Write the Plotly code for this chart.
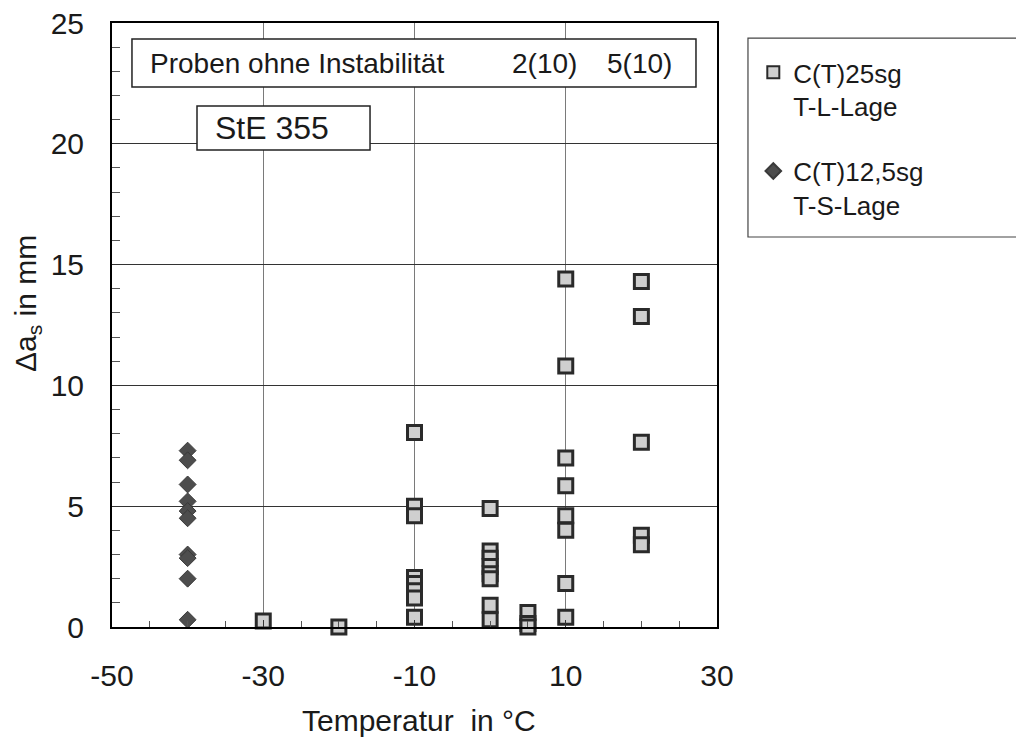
import plotly.graph_objects as go

# --- data ---
sq_temp = [-30, -20,
           -10, -10, -10, -10, -10, -10, -10, -10,
           0, 0, 0, 0, 0, 0, 0, 0,
           5, 5, 5,
           10, 10, 10, 10, 10, 10, 10, 10,
           20, 20, 20, 20, 20]
sq_da = [0.25, 0.0,
         8.05, 5.0, 4.6, 2.05, 1.8, 1.5, 1.2, 0.4,
         4.9, 3.15, 2.85, 2.5, 2.2, 2.0, 0.9, 0.3,
         0.6, 0.15, 0.0,
         14.4, 10.8, 7.0, 5.85, 4.6, 4.0, 1.8, 0.4,
         14.3, 12.85, 7.65, 3.8, 3.4]

dia_temp = [-40, -40, -40, -40, -40, -40, -40, -40, -40, -40]
dia_da = [7.3, 6.9, 5.9, 5.2, 4.8, 4.5, 3.0, 2.85, 2.0, 0.3]

x_ticks = [-50, -30, -10, 10, 30]
y_ticks = [0, 5, 10, 15, 20, 25]

FONT = "Liberation Sans, Arial, Helvetica, sans-serif"

fig = go.Figure()
fig.add_trace(go.Scatter(
    x=sq_temp, y=sq_da, mode="markers", name="C(T)25sg<br>T-L-Lage",
    legendgroup="a", cliponaxis=False,
    marker=dict(symbol="square", size=14, color="#cfcfcf",
                line=dict(color="#2a2a2a", width=3))))
fig.add_trace(go.Scatter(
    x=dia_temp, y=dia_da, mode="markers", name="C(T)12,5sg<br>T-S-Lage",
    legendgroup="b", cliponaxis=False,
    marker=dict(symbol="diamond", size=13, color="#4d4d4d",
                line=dict(color="#3a3a3a", width=1))))

fig.update_layout(
    width=1024, height=742, autosize=False,
    margin=dict(l=104, r=315, t=15, b=123, autoexpand=False),
    paper_bgcolor="white", plot_bgcolor="white",
    font=dict(family=FONT, color="#1a1a1a"),
    showlegend=True,
    legend=dict(x=1.06, y=0.957, xanchor="left", yanchor="top",
                font=dict(size=26, family=FONT, color="#1a1a1a"),
                bgcolor="rgba(0,0,0,0)", borderwidth=0,
                itemsizing="constant", valign="top", itemwidth=30,
                traceorder="grouped", tracegroupgap=28),
    xaxis=dict(range=[-50, 30], tickvals=x_ticks, ticktext=[str(v) for v in x_ticks],
               showgrid=True, gridcolor="#7a7a7a", gridwidth=1,
               showline=True, linecolor="black", linewidth=2, mirror=True,
               ticks="inside", ticklen=7, tickcolor="#333",
               minor=dict(dtick=5, tick0=-50, ticks="inside", ticklen=6,
                          tickcolor="#555", showgrid=False),
               zeroline=False, tickfont=dict(size=30, family=FONT, color="#1a1a1a"),
               ticklabelstandoff=21, automargin=False, ticklabeloverflow="allow"),
    yaxis=dict(range=[0, 25], tickvals=y_ticks, ticktext=[str(v) for v in y_ticks],
               showgrid=True, gridcolor="#333", gridwidth=1,
               showline=True, linecolor="black", linewidth=2, mirror=True,
               ticks="inside", ticklen=8, tickcolor="#333",
               minor=dict(dtick=1, tick0=0, ticks="inside", ticklen=8,
                          tickcolor="#555", showgrid=False),
               zeroline=False, tickfont=dict(size=30, family=FONT, color="#1a1a1a"),
               ticklabelstandoff=20, automargin=False, ticklabeloverflow="allow"),
)

# legend frame
fig.add_shape(type="rect", xref="paper", yref="paper",
              x0=1.0512, x1=1.5025, y0=0.6457, y1=0.975,
              line=dict(color="#444", width=1.2), fillcolor="rgba(0,0,0,0)")

# annotation boxes
fig.add_shape(type="rect", xref="x", yref="y", x0=-47.36, x1=27.22, y0=22.35, y1=24.34,
              line=dict(color="#222", width=1.5), fillcolor="white", layer="above")
fig.add_shape(type="rect", xref="x", yref="y", x0=-38.76, x1=-15.88, y0=19.74, y1=21.56,
              line=dict(color="#222", width=1.5), fillcolor="white", layer="above")

fig.add_annotation(x=-45.24, y=23.34, xref="x", yref="y", xanchor="left", yanchor="middle",
                   text="Proben ohne Instabilität", showarrow=False,
                   font=dict(size=28, family=FONT, color="#1a1a1a"))
fig.add_annotation(x=7.19, y=23.34, xref="x", yref="y", xanchor="center", yanchor="middle",
                   text="2(10)", showarrow=False,
                   font=dict(size=28, family=FONT, color="#1a1a1a"))
fig.add_annotation(x=19.75, y=23.34, xref="x", yref="y", xanchor="center", yanchor="middle",
                   text="5(10)", showarrow=False,
                   font=dict(size=28, family=FONT, color="#1a1a1a"))
fig.add_annotation(x=-28.84, y=20.65, xref="x", yref="y", xanchor="center", yanchor="middle",
                   text="StE 355", showarrow=False,
                   font=dict(size=32, family=FONT, color="#1a1a1a"))

# axis titles
fig.add_annotation(x=0.507, y=-0.155, xref="paper", yref="paper", xanchor="center", yanchor="middle",
                   text="Temperatur&nbsp;&nbsp;in °C", showarrow=False,
                   font=dict(size=30, family=FONT, color="#1a1a1a"))
fig.add_annotation(x=-0.1405, y=0.5364, xref="paper", yref="paper", xanchor="center", yanchor="middle",
                   text="Δa<sub>s</sub> in mm", textangle=-90, showarrow=False,
                   font=dict(size=30, family=FONT, color="#1a1a1a"))

fig.write_html("out.html")
